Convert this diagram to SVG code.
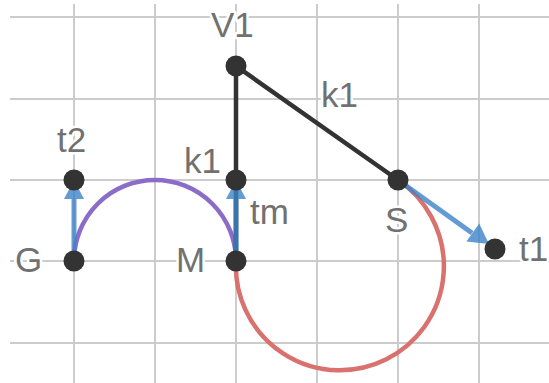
<svg xmlns="http://www.w3.org/2000/svg" width="549" height="383" viewBox="0 0 549 383">
<style>
.grid line{stroke:#cccccc;stroke-width:2}
.pt{fill:#333333}
.seg{stroke:#333333;stroke-width:4.5;stroke-linecap:round;fill:none}
.vec{opacity:0.8}
.vec line{stroke:#3d83c9;stroke-width:5}
.vec path{fill:#3d83c9}
.lbl{font-family:"Liberation Sans",Arial,sans-serif;font-size:35px;fill:#717171;stroke:#ffffff;stroke-width:5;stroke-linejoin:round;paint-order:stroke}
</style>
<rect width="549" height="383" fill="#ffffff"/>
<g class="grid" id="grid">
<line x1="74" y1="4" x2="74" y2="383"/>
<line x1="155" y1="4" x2="155" y2="383"/>
<line x1="236" y1="4" x2="236" y2="383"/>
<line x1="317" y1="4" x2="317" y2="383"/>
<line x1="398" y1="4" x2="398" y2="383"/>
<line x1="479" y1="4" x2="479" y2="383"/>
<line x1="10" y1="17" x2="549" y2="17"/>
<line x1="10" y1="99" x2="549" y2="99"/>
<line x1="10" y1="180" x2="549" y2="180"/>
<line x1="10" y1="261" x2="549" y2="261"/>
<line x1="10" y1="343" x2="549" y2="343"/>
</g>
<g id="connectors">
<path d="M74,261 A81,81 0 0 1 236,261" fill="none" stroke="#8b6cc9" stroke-width="4.5"/>
<path d="M236,261 A104,104 0 1 0 398,180" fill="none" stroke="#d9716f" stroke-width="4.5"/>
<line class="seg" x1="236" y1="66" x2="236" y2="261"/>
<line class="seg" x1="236" y1="66" x2="398" y2="180"/>
<g class="vec"><line x1="74" y1="261" x2="74" y2="196"/><path d="M74,180 L84,199 L64,199 Z"/></g>
<g class="vec"><line x1="236" y1="261" x2="236" y2="196"/><path d="M236,180 L246,199 L226,199 Z"/></g>
<g class="vec"><line x1="398" y1="180" x2="472" y2="233"/><path d="M489,244 L466.4,241.5 L479.2,223.6 Z"/></g>
</g>
<g id="V1"><circle class="pt" cx="236" cy="66" r="10.5"/><text class="lbl" x="211" y="37">V1</text></g>
<g id="k1pt"><circle class="pt" cx="236" cy="180" r="10.5"/><text class="lbl" x="184" y="173">k1</text></g>
<g id="t2"><circle class="pt" cx="74" cy="180" r="10.5"/><text class="lbl" x="57" y="152">t2</text></g>
<g id="G"><circle class="pt" cx="74" cy="261" r="10.5"/><text class="lbl" x="15" y="272">G</text></g>
<g id="M"><circle class="pt" cx="236" cy="261" r="10.5"/><text class="lbl" x="176" y="272">M</text></g>
<g id="S"><circle class="pt" cx="398" cy="180" r="10.5"/><text class="lbl" x="385" y="232">S</text></g>
<g id="t1"><circle class="pt" cx="495" cy="249" r="10.5"/><text class="lbl" x="519" y="261">t1</text></g>
<g id="labels">
<text class="lbl" x="321" y="107">k1</text>
<text class="lbl" x="250" y="224">tm</text>
</g>
</svg>
